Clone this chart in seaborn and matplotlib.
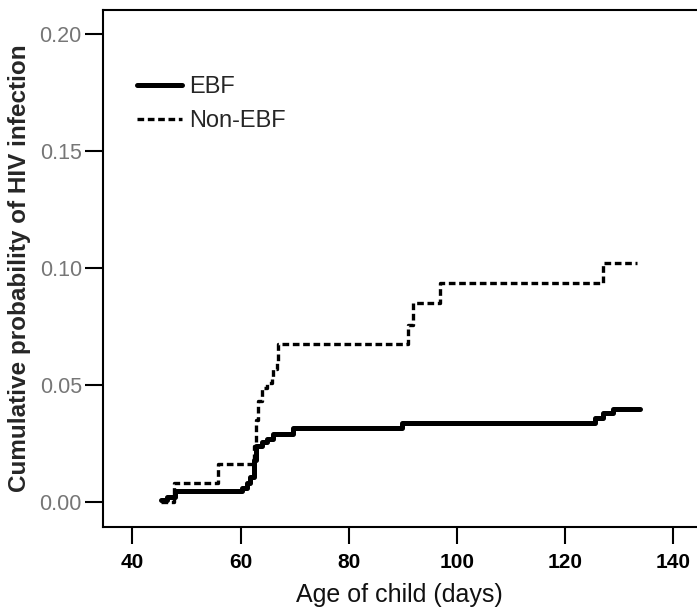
import numpy as np
import pandas as pd
import matplotlib
matplotlib.use("Agg")
import matplotlib.pyplot as plt
import seaborn as sns

# step points (day, cumulative probability)
ebf_days = [45.2, 46.4, 47.9, 60.3, 61.2, 61.8, 62.4, 62.9, 64.0, 64.9, 66.0,
            69.7, 89.9, 125.5, 127.1, 128.9, 133.8]
ebf_prob = [0.0008, 0.0023, 0.0046, 0.0058, 0.0080, 0.0108, 0.0180, 0.0240,
            0.0255, 0.0270, 0.0290, 0.0316, 0.0336, 0.0359, 0.0380, 0.0397, 0.0397]

non_days = [45.2, 47.7, 55.8, 62.5, 62.9, 63.2, 64.0, 64.9, 65.8, 66.0, 66.7,
            67.0, 91.0, 91.8, 96.9, 127.0, 133.3]
non_prob = [0.0, 0.0082, 0.0162, 0.0240, 0.0350, 0.0430, 0.0487, 0.0510,
            0.0530, 0.0570, 0.0600, 0.0675, 0.0756, 0.0849, 0.0935, 0.1023, 0.1023]

x_ticks = [40, 60, 80, 100, 120, 140]
y_ticks = [0.00, 0.05, 0.10, 0.15, 0.20]
y_tick_labels = ["0.00", "0.05", "0.10", "0.15", "0.20"]

sns.set_style("ticks")
plt.rcParams["font.family"] = ["Liberation Sans", "DejaVu Sans"]

ebf = pd.DataFrame({"day": ebf_days, "prob": ebf_prob})
non = pd.DataFrame({"day": non_days, "prob": non_prob})

fig = plt.figure(figsize=(6.97, 6.07), dpi=100)
ax = fig.add_axes([0.1473, 0.1318, 1.0 - 0.1473, 0.9835 - 0.1318])

sns.lineplot(data=ebf, x="day", y="prob", ax=ax, color="black", linewidth=3.6,
             drawstyle="steps-post", label="EBF", zorder=3, estimator=None)
sns.lineplot(data=non, x="day", y="prob", ax=ax, color="black", linewidth=2.4,
             drawstyle="steps-post", label="Non-EBF", zorder=2, estimator=None,
             linestyle=(0, (2, 1.1)))
ax.lines[1].set_dash_capstyle("butt")

ax.set_xlim(34.5, 144.4)
ax.set_ylim(-0.0107, 0.2103)
ax.set_xticks(x_ticks)
ax.set_yticks(y_ticks)
ax.set_yticklabels(y_tick_labels)

ax.tick_params(axis="x", length=12, width=1.5, pad=7, labelsize=15, colors="black")
ax.tick_params(axis="y", length=13, width=1.5, pad=2, labelsize=15.5,
               labelcolor="#767676", color="black")
for lab in ax.get_xticklabels():
    lab.set_fontweight("bold")

for side in ["left", "bottom", "top"]:
    ax.spines[side].set_linewidth(1.5)
    ax.spines[side].set_color("black")
ax.spines["right"].set_visible(False)

ax.set_xlabel("Age of child (days)", fontsize=18, labelpad=8, color="#111111")
ax.set_ylabel("Cumulative probability of HIV infection", fontsize=17.5,
              fontweight="bold", labelpad=6)

leg = ax.legend(loc="upper left", bbox_to_anchor=(0.058, 0.872), frameon=False,
                fontsize=17, handlelength=1.9, handletextpad=0.3,
                borderpad=0, borderaxespad=0, labelspacing=0.5)

fig.savefig("out.png", dpi=100)
